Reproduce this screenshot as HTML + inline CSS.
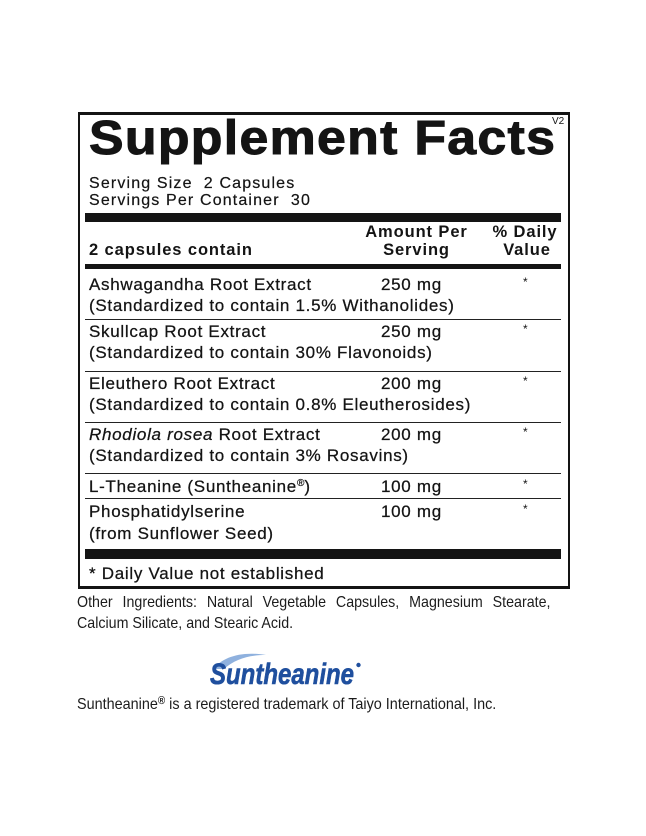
<!DOCTYPE html>
<html>
<head>
<meta charset="utf-8">
<style>
  html,body{margin:0;padding:0;background:#fff;}
  body{width:646px;height:836px;position:relative;overflow:hidden;font-family:"Liberation Sans",Arial,sans-serif;color:#141414;}
  .t{position:absolute;white-space:nowrap;line-height:1;}
  .r{font-size:17px;letter-spacing:0.7px;-webkit-text-stroke:0.25px #141414;}
  .b{font-size:16.5px;font-weight:bold;letter-spacing:0.9px;}
  .ast{font-size:12px;left:523px;}
  .amt{left:381px;}
  .bar{position:absolute;left:85px;width:476px;background:#141414;}
  .sep{position:absolute;left:85px;width:476px;height:1px;background:#222;}
  .cond{font-size:16px;transform:scaleX(0.89);transform-origin:0 0;color:#1c1c1c;}
</style>
</head>
<body>
  <!-- Box -->
  <div style="position:absolute;left:78px;top:112px;width:488px;height:471px;border:2px solid #141414;border-top-width:3px;border-bottom-width:3px;"></div>

  <!-- Title -->
  <div class="t" style="left:89px;top:115.4px;font-size:48px;font-weight:bold;letter-spacing:1.2px;-webkit-text-stroke:1px #141414;transform:scaleX(1.08);transform-origin:0 0;">Supplement Facts</div>
  <div class="t" style="left:552px;top:116.5px;font-size:10px;">V2</div>

  <div class="t" style="left:89px;top:175.8px;font-size:16px;letter-spacing:1.15px;-webkit-text-stroke:0.2px #141414;">Serving Size&nbsp; 2 Capsules</div>
  <div class="t" style="left:89px;top:192.5px;font-size:16px;letter-spacing:1.15px;-webkit-text-stroke:0.2px #141414;">Servings Per Container&nbsp; 30</div>

  <div class="bar" style="top:213px;height:9px;"></div>

  <div class="t b" style="left:89px;top:242px;">2 capsules contain</div>
  <div class="t b" style="left:356.5px;width:120px;text-align:center;top:224.3px;">Amount Per</div>
  <div class="t b" style="left:356.5px;width:120px;text-align:center;top:241.7px;">Serving</div>
  <div class="t b" style="left:485px;width:80px;text-align:center;top:224.3px;">% Daily</div>
  <div class="t b" style="left:487px;width:80px;text-align:center;top:241.7px;">Value</div>

  <div class="bar" style="top:264px;height:5px;"></div>

  <!-- Row 1 -->
  <div class="t r" style="left:89px;top:276.1px;">Ashwagandha Root Extract</div>
  <div class="t r" style="left:89px;top:296.6px;">(Standardized to contain 1.5% Withanolides)</div>
  <div class="t r amt" style="top:276.1px;">250 mg</div>
  <div class="t ast" style="top:276.3px;">*</div>
  <div class="sep" style="top:319px;"></div>

  <!-- Row 2 -->
  <div class="t r" style="left:89px;top:323.1px;">Skullcap Root Extract</div>
  <div class="t r" style="left:89px;top:343.6px;">(Standardized to contain 30% Flavonoids)</div>
  <div class="t r amt" style="top:323.1px;">250 mg</div>
  <div class="t ast" style="top:323.3px;">*</div>
  <div class="sep" style="top:371px;"></div>

  <!-- Row 3 -->
  <div class="t r" style="left:89px;top:374.6px;">Eleuthero Root Extract</div>
  <div class="t r" style="left:89px;top:395.6px;">(Standardized to contain 0.8% Eleutherosides)</div>
  <div class="t r amt" style="top:374.6px;">200 mg</div>
  <div class="t ast" style="top:374.8px;">*</div>
  <div class="sep" style="top:422px;"></div>

  <!-- Row 4 -->
  <div class="t r" style="left:89px;top:426.1px;"><i>Rhodiola rosea</i> Root Extract</div>
  <div class="t r" style="left:89px;top:446.6px;">(Standardized to contain 3% Rosavins)</div>
  <div class="t r amt" style="top:426.1px;">200 mg</div>
  <div class="t ast" style="top:426.3px;">*</div>
  <div class="sep" style="top:473px;"></div>

  <!-- Row 5 -->
  <div class="t r" style="left:89px;top:477.6px;">L-Theanine (Suntheanine<span style="font-size:10px;position:relative;top:-6px;letter-spacing:0;">®</span>)</div>
  <div class="t r amt" style="top:477.6px;">100 mg</div>
  <div class="t ast" style="top:477.8px;">*</div>
  <div class="sep" style="top:498px;"></div>

  <!-- Row 6 -->
  <div class="t r" style="left:89px;top:503.1px;">Phosphatidylserine</div>
  <div class="t r" style="left:89px;top:525.1px;">(from Sunflower Seed)</div>
  <div class="t r amt" style="top:503.1px;">100 mg</div>
  <div class="t ast" style="top:503.3px;">*</div>

  <div class="bar" style="top:549px;height:10px;"></div>

  <div class="t r" style="left:89px;top:564.6px;">* Daily Value not established</div>

  <!-- Other ingredients -->
  <div class="t cond" style="left:77px;top:594.8px;width:532px;text-align:justify;text-align-last:justify;white-space:normal;">Other Ingredients: Natural Vegetable Capsules, Magnesium Stearate,</div>
  <div class="t cond" style="left:77px;top:615.5px;">Calcium Silicate, and Stearic Acid.</div>

  <!-- Logo -->
  <svg style="position:absolute;left:0;top:0;" width="646" height="836">
    <path d="M213,669 C223,657 241,651 266,655 C249,655 235,659 224,669 Z" fill="#8fb1de"/>
    <circle cx="358.5" cy="665" r="2.2" fill="#1f4f9e"/>
  </svg>
  <div class="t" style="left:210px;top:659.6px;font-size:30px;font-weight:bold;font-style:italic;color:#1f4f9e;-webkit-text-stroke:0.6px #1f4f9e;transform:scaleX(0.80);transform-origin:0 0;">Suntheanine</div>

  <div class="t cond" style="left:77px;top:697.2px;transform:scaleX(0.9);">Suntheanine<span style="font-size:11px;font-weight:bold;position:relative;top:-5px;">®</span> is a registered trademark of Taiyo International, Inc.</div>
</body>
</html>
